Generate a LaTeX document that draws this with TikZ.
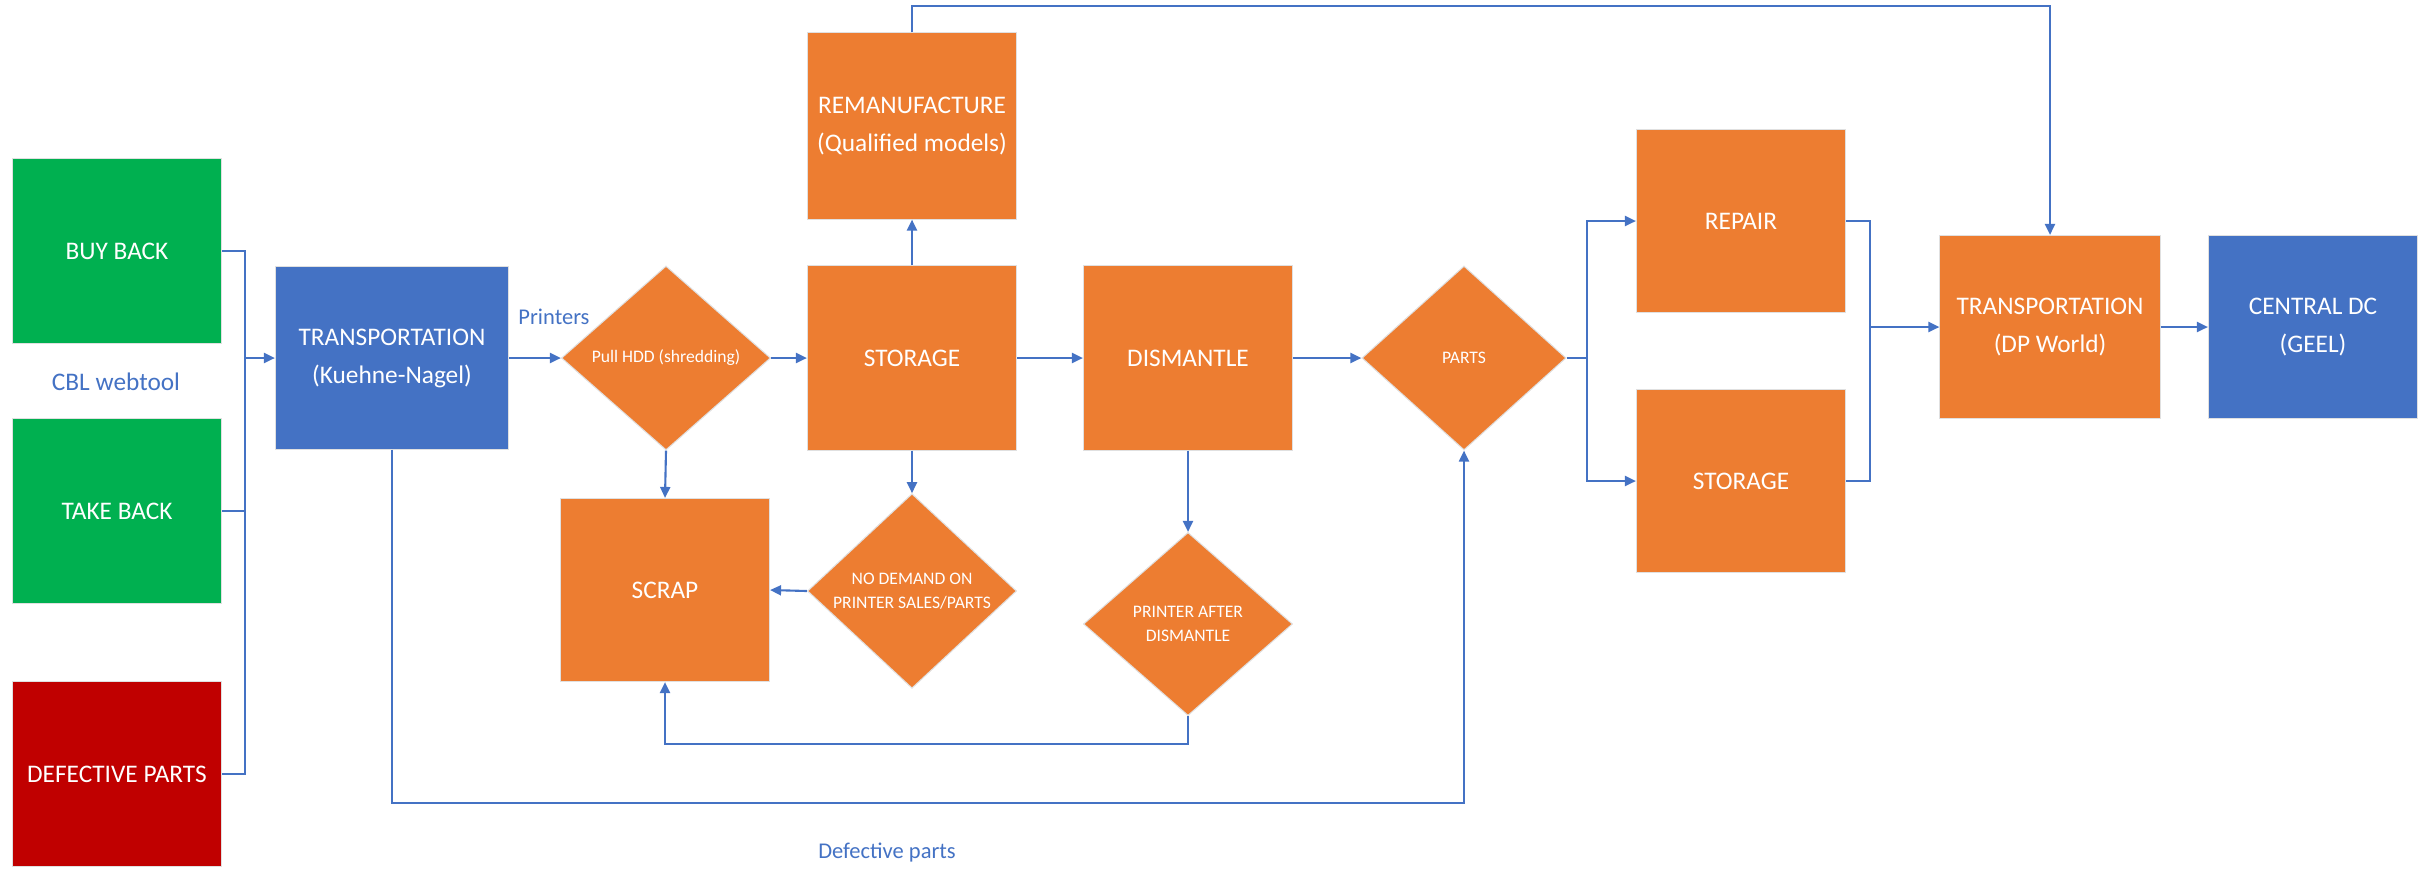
\documentclass[tikz,border=0pt]{standalone}
\usepackage{fontspec}
\setmainfont{Carlito}
\usetikzlibrary{shapes.geometric,arrows.meta}
\definecolor{orangeC}{HTML}{ED7D31}
\definecolor{greenC}{HTML}{00B050}
\definecolor{blueC}{HTML}{4472C4}
\definecolor{redC}{HTML}{C00000}
\tikzset{
	box/.style={rectangle, draw=black!12, line width=0.3pt, text=white, align=center,
		minimum width=2.09cm, minimum height=1.84cm, inner sep=1pt, font=\fontsize{7.2}{10.8}\selectfont},
	obox/.style={box, fill=orangeC},
	gbox/.style={box, fill=greenC},
	bbox/.style={box, fill=blueC},
	rbox/.style={box, fill=redC},
	diam/.style={diamond, draw=black!12, line width=0.3pt, fill=orangeC, text=white, align=center,
		minimum width=2.09cm, minimum height=1.84cm, inner sep=0pt, font=\fontsize{5}{7}\selectfont},
	flow/.style={draw=blueC, line width=0.6pt},
	arr/.style={flow, -{Triangle[length=1.1mm,width=1mm]}},
	lbl/.style={text=blueC, font=\fontsize{6.4}{8}\selectfont}
}
\begin{document}
\begin{tikzpicture}[x=0.01cm,y=-0.01cm]
		\useasboundingbox (0,0) rectangle (2427,869);
		% sources
		\node[gbox] (buy) at (117,251) {BUY BACK};
		\node[gbox] (take) at (117,511) {TAKE BACK};
		\node[rbox] (def) at (117,774) {DEFECTIVE PARTS};
		\node[lbl, font=\fontsize{7.2}{9}\selectfont] (cbl) at (116,382) {CBL webtool};
		\node[bbox, minimum width=2.33cm, minimum height=1.82cm] (tkn) at (392,358) {TRANSPORTATION\\(Kuehne-Nagel)};
		% main line
		\node[diam] (hdd) at (666,358) {Pull HDD (shredding)};
		\node[obox] (stor) at (912,358) {STORAGE};
		\node[obox, minimum height=1.86cm] (reman) at (912,126) {REMANUFACTURE\\(Qualified models)};
		\node[obox] (dism) at (1188,358) {DISMANTLE};
		\node[diam, minimum width=2.04cm] (parts) at (1464,358) {PARTS};
		\node[obox, minimum height=1.83cm] (rep) at (1741,221) {REPAIR};
		\node[obox, minimum height=1.83cm] (stor2) at (1741,481) {STORAGE};
		\node[obox, minimum width=2.2cm, minimum height=1.83cm] (dpw) at (2050,327) {TRANSPORTATION\\(DP World)};
		\node[bbox, minimum height=1.83cm] (cdc) at (2313,327) {CENTRAL DC\\(GEEL)};
		% lower part
		\node[obox, minimum height=1.83cm] (scrap) at (665,590) {SCRAP};
		\node[diam] (nodem) at (912,591) {NO DEMAND ON\\PRINTER SALES/PARTS};
		\node[diam, minimum height=1.83cm] (after) at (1188,624) {PRINTER AFTER\\DISMANTLE};
		\node[lbl] (prn) at (554,317) {Printers};
		\node[lbl] (dfl) at (887,853) {Defective parts};
		% helper points
		\coordinate (jin) at (245,358);
		\coordinate (jpa) at (1587,358);
		\coordinate (jout) at (1870,327);
		\coordinate (lscr) at (665,744);
		\coordinate (ldef) at (1464,803);
		\coordinate (ltop) at (2050,6);
		% connectors
		\draw[flow] (buy.east) -| (jin);
		\draw[flow] (take.east) -| (jin);
		\draw[flow] (def.east) -| (jin);
		\draw[arr] (jin) -- (tkn.west);
		\draw[arr] (tkn.east) -- (hdd.west);
		\draw[arr] (hdd.east) -- (stor.west);
		\draw[arr] (stor.north) -- (reman.south);
		\draw[arr] (stor.east) -- (dism.west);
		\draw[arr] (dism.east) -- (parts.west);
		\draw[arr] (hdd.south) -- (scrap.north);
		\draw[arr] (stor.south) -- (nodem.north);
		\draw[arr] (nodem.west) -- (scrap.east);
		\draw[arr] (dism.south) -- (after.north);
		\draw[arr] (after.south) |- (lscr) -- (scrap.south);
		\draw[arr] (tkn.south) |- (ldef) -- (parts.south);
		\draw[arr] (reman.north) |- (ltop) -- (dpw.north);
		\draw[flow] (parts.east) -- (jpa);
		\draw[arr] (jpa) |- (rep.west);
		\draw[arr] (jpa) |- (stor2.west);
		\draw[flow] (rep.east) -| (jout);
		\draw[flow] (stor2.east) -| (jout);
		\draw[arr] (jout) -- (dpw.west);
		\draw[arr] (dpw.east) -- (cdc.west);
\end{tikzpicture}
\end{document}
